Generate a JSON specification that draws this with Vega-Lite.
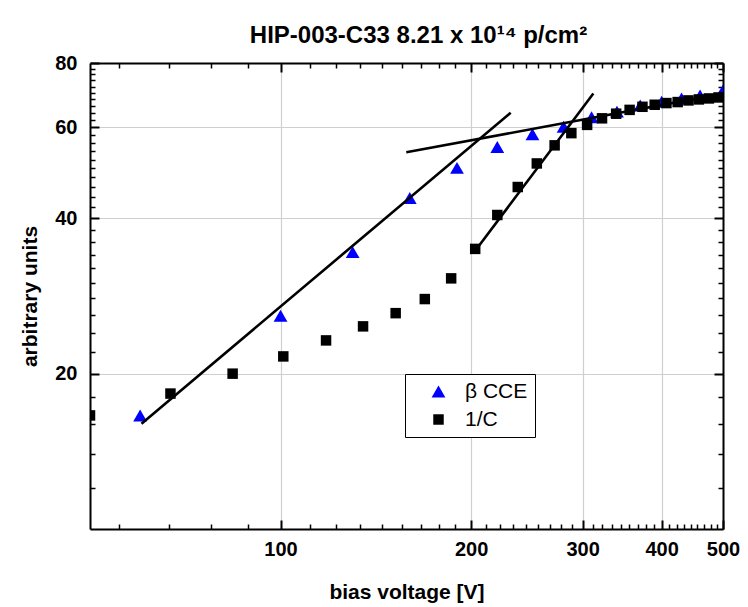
{
  "$schema": "https://vega.github.io/schema/vega-lite/v6.json",
  "width": 633,
  "height": 466,
  "autosize": {"type": "none"},
  "padding": {"left": 90, "top": 63, "right": 25, "bottom": 78},
  "background": "white",
  "config": {
    "view": {"stroke": null},
    "font": "Liberation Sans, Arial, sans-serif"
  },
  "title": {
    "text": "HIP-003-C33 8.21 x 10¹⁴ p/cm²",
    "fontSize": 24,
    "fontWeight": "bold",
    "font": "Liberation Sans, Arial, sans-serif",
    "color": "black",
    "anchor": "middle",
    "dx": 12,
    "offset": 5
  },
  "datasets": {
    "pts": [
      {"series": "β CCE", "V": 60, "val": 16.6},
      {"series": "β CCE", "V": 100, "val": 25.9},
      {"series": "β CCE", "V": 130, "val": 34.4},
      {"series": "β CCE", "V": 160, "val": 43.8},
      {"series": "β CCE", "V": 190, "val": 50.1},
      {"series": "β CCE", "V": 220, "val": 55.0},
      {"series": "β CCE", "V": 250, "val": 58.2},
      {"series": "β CCE", "V": 280, "val": 60.2},
      {"series": "β CCE", "V": 310, "val": 62.8},
      {"series": "β CCE", "V": 340, "val": 64.4},
      {"series": "β CCE", "V": 370, "val": 66.2},
      {"series": "β CCE", "V": 400, "val": 67.3},
      {"series": "β CCE", "V": 430, "val": 68.3},
      {"series": "β CCE", "V": 460, "val": 69.2},
      {"series": "β CCE", "V": 500, "val": 70.8},
      {"series": "1/C", "V": 50, "val": 16.6},
      {"series": "1/C", "V": 67, "val": 18.3},
      {"series": "1/C", "V": 84, "val": 20.0},
      {"series": "1/C", "V": 101, "val": 21.6},
      {"series": "1/C", "V": 118, "val": 23.2},
      {"series": "1/C", "V": 135, "val": 24.7},
      {"series": "1/C", "V": 152, "val": 26.2},
      {"series": "1/C", "V": 169, "val": 27.9},
      {"series": "1/C", "V": 186, "val": 30.6},
      {"series": "1/C", "V": 203, "val": 34.9},
      {"series": "1/C", "V": 220, "val": 40.6},
      {"series": "1/C", "V": 237, "val": 46.0},
      {"series": "1/C", "V": 254, "val": 51.1},
      {"series": "1/C", "V": 271, "val": 55.4},
      {"series": "1/C", "V": 288, "val": 58.5},
      {"series": "1/C", "V": 305, "val": 60.7},
      {"series": "1/C", "V": 322, "val": 62.5},
      {"series": "1/C", "V": 339, "val": 63.8},
      {"series": "1/C", "V": 356, "val": 64.9},
      {"series": "1/C", "V": 373, "val": 65.8},
      {"series": "1/C", "V": 390, "val": 66.4},
      {"series": "1/C", "V": 407, "val": 66.9},
      {"series": "1/C", "V": 424, "val": 67.2},
      {"series": "1/C", "V": 441, "val": 67.7},
      {"series": "1/C", "V": 458, "val": 68.0},
      {"series": "1/C", "V": 475, "val": 68.3},
      {"series": "1/C", "V": 492, "val": 68.6}
    ],
    "fits": [
      {"fit": "A", "V": 60.3, "val": 16.0},
      {"fit": "A", "V": 231, "val": 64.1},
      {"fit": "B", "V": 158, "val": 53.7},
      {"fit": "B", "V": 500, "val": 69.8},
      {"fit": "C", "V": 203, "val": 34.6},
      {"fit": "C", "V": 312, "val": 69.8}
    ]
  },
  "layer": [
    {
      "data": {"name": "pts"},
      "mark": {"type": "point", "filled": true, "opacity": 1, "clip": true},
      "encoding": {
        "x": {
          "field": "V", "type": "quantitative",
          "scale": {"type": "log", "domain": [50, 500], "nice": false},
          "axis": {
            "orient": "bottom",
            "title": "bias voltage [V]",
            "titleFontSize": 21, "titleFontWeight": "bold", "titleColor": "black", "titlePadding": 18,
            "values": [55.556, 66.667, 77.778, 88.889, 100, 111.111, 122.222, 133.333, 144.444, 155.556, 166.667, 177.778, 188.889, 200, 211.111, 222.222, 233.333, 244.444, 255.556, 266.667, 277.778, 288.889, 300, 311.111, 322.222, 333.333, 344.444, 355.556, 366.667, 377.778, 388.889, 400, 411.111, 422.222, 433.333, 444.444, 455.556, 466.667, 477.778, 488.889, 500],
            "labelExpr": "indexof([100,200,300,400,500], datum.value) >= 0 ? datum.label : ''",
            "labelFontSize": 20, "labelFontWeight": "bold", "labelColor": "black", "labelPadding": 19,
            "labelFlush": false, "labelOverlap": false,
            "grid": true, "gridColor": "#cfcfcf", "gridWidth": 1.2,
            "gridOpacity": {"condition": {"test": "indexof([100,200,300,400], datum.value) >= 0", "value": 1}, "value": 0},
            "tickSize": {"condition": {"test": "indexof([100,200,300,400,500], datum.value) >= 0", "value": -9}, "value": -5},
            "tickWidth": {"condition": {"test": "indexof([100,200,300,400,500], datum.value) >= 0", "value": 2}, "value": 1.5},
            "tickColor": "black",
            "domainColor": "black", "domainWidth": 2
          }
        },
        "y": {
          "field": "val", "type": "quantitative",
          "scale": {"type": "log", "domain": [10, 80], "nice": false},
          "axis": {
            "orient": "left",
            "title": "arbitrary units",
            "titleFontSize": 21, "titleFontWeight": "bold", "titleColor": "black", "titlePadding": 14,
            "values": [12, 14, 16, 18, 20, 22, 24, 26, 28, 30, 32, 34, 36, 38, 40, 42, 44, 46, 48, 50, 52, 54, 56, 58, 60, 62, 64, 66, 68, 70, 72, 74, 76, 78, 80],
            "labelExpr": "indexof([20,40,60,80], datum.value) >= 0 ? datum.label : ''",
            "labelFontSize": 20, "labelFontWeight": "bold", "labelColor": "black", "labelPadding": 22,
            "labelFlush": false, "labelOverlap": false,
            "grid": true, "gridColor": "#cfcfcf", "gridWidth": 1.2,
            "gridOpacity": {"condition": {"test": "indexof([20,40,60], datum.value) >= 0", "value": 1}, "value": 0},
            "tickSize": {"condition": {"test": "indexof([20,40,60,80], datum.value) >= 0", "value": -9}, "value": -5},
            "tickWidth": {"condition": {"test": "indexof([20,40,60,80], datum.value) >= 0", "value": 2}, "value": 1.5},
            "tickColor": "black",
            "domainColor": "black", "domainWidth": 2
          }
        },
        "shape": {
          "field": "series", "type": "nominal",
          "scale": {"domain": ["β CCE", "1/C"], "range": ["triangle-up", "square"]},
          "legend": {
            "orient": "none", "legendX": 315, "legendY": 311, "title": null,
            "strokeColor": "black", "fillColor": "white", "padding": 7,
            "labelFontSize": 21, "labelColor": "black", "labelFont": "Liberation Sans, Arial, sans-serif",
            "symbolOffset": 16, "labelOffset": 16, "rowPadding": 6
          }
        },
        "color": {
          "field": "series", "type": "nominal",
          "scale": {"domain": ["β CCE", "1/C"], "range": ["#0000ff", "#000000"]},
          "legend": {
            "orient": "none", "legendX": 315, "legendY": 311, "title": null,
            "strokeColor": "black", "fillColor": "white", "padding": 7,
            "labelFontSize": 21, "labelColor": "black", "labelFont": "Liberation Sans, Arial, sans-serif",
            "symbolOffset": 16, "labelOffset": 16, "rowPadding": 6
          }
        },
        "size": {
          "field": "series", "type": "nominal",
          "scale": {"domain": ["β CCE", "1/C"], "range": [190, 110]},
          "legend": {
            "orient": "none", "legendX": 315, "legendY": 311, "title": null,
            "strokeColor": "black", "fillColor": "white", "padding": 7,
            "labelFontSize": 21, "labelColor": "black", "labelFont": "Liberation Sans, Arial, sans-serif",
            "symbolOffset": 16, "labelOffset": 16, "rowPadding": 6
          }
        }
      }
    },
    {
      "data": {"name": "fits"},
      "mark": {"type": "line", "color": "black", "strokeWidth": 2.6, "clip": true},
      "encoding": {
        "x": {
          "field": "V", "type": "quantitative",
          "scale": {"type": "log", "domain": [50, 500], "nice": false},
          "axis": {
            "orient": "top", "title": null, "labels": false, "grid": false,
            "values": [55.556, 66.667, 77.778, 88.889, 100, 111.111, 122.222, 133.333, 144.444, 155.556, 166.667, 177.778, 188.889, 200, 211.111, 222.222, 233.333, 244.444, 255.556, 266.667, 277.778, 288.889, 300, 311.111, 322.222, 333.333, 344.444, 355.556, 366.667, 377.778, 388.889, 400, 411.111, 422.222, 433.333, 444.444, 455.556, 466.667, 477.778, 488.889, 500],
            "tickSize": {"condition": {"test": "indexof([100,200,300,400,500], datum.value) >= 0", "value": -9}, "value": -5},
            "tickWidth": {"condition": {"test": "indexof([100,200,300,400,500], datum.value) >= 0", "value": 2}, "value": 1.5},
            "tickColor": "black",
            "domainColor": "black", "domainWidth": 2
          }
        },
        "y": {
          "field": "val", "type": "quantitative",
          "scale": {"type": "log", "domain": [10, 80], "nice": false},
          "axis": {
            "orient": "right", "title": null, "labels": false, "grid": false,
            "values": [12, 14, 16, 18, 20, 22, 24, 26, 28, 30, 32, 34, 36, 38, 40, 42, 44, 46, 48, 50, 52, 54, 56, 58, 60, 62, 64, 66, 68, 70, 72, 74, 76, 78, 80],
            "tickSize": {"condition": {"test": "indexof([20,40,60,80], datum.value) >= 0", "value": -9}, "value": -5},
            "tickWidth": {"condition": {"test": "indexof([20,40,60,80], datum.value) >= 0", "value": 2}, "value": 1.5},
            "tickColor": "black",
            "domainColor": "black", "domainWidth": 2
          }
        },
        "detail": {"field": "fit", "type": "nominal"}
      }
    }
  ],
  "resolve": {"axis": {"x": "independent", "y": "independent"}}
}
